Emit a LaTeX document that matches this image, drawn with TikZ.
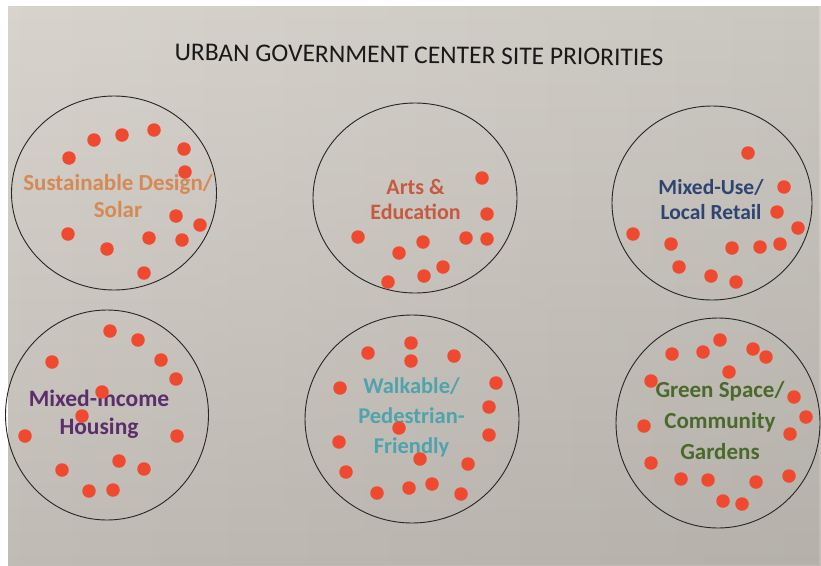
\documentclass[tikz,border=0pt]{standalone}
\usepackage{fontspec}
\setmainfont{Carlito}
\usetikzlibrary{shapes.geometric,fadings}

\definecolor{dotred}{HTML}{EF4A2F}
\definecolor{tanorange}{HTML}{D58A56}
\definecolor{brickred}{HTML}{C65A40}
\definecolor{navyblue}{HTML}{2E4571}
\definecolor{plumpurple}{HTML}{5A2D6B}
\definecolor{tealblue}{HTML}{4FA3AD}
\definecolor{mossgreen}{HTML}{4A6A2C}
\definecolor{papertop}{HTML}{D8D4CD}
\definecolor{paperbottom}{HTML}{C0BBB4}

% darkening that grows towards the right edge
\tikzfading[name=darkright, left color=transparent!100, right color=transparent!0]

\tikzset{
  ring/.style={draw=black!85, line width=0.9pt, ellipse, inner sep=0pt},
  spot/.style={circle, fill=dotred, inner sep=0pt, minimum size=13.5pt},
  label/.style={align=center, font=\bfseries, inner sep=0pt},
}

\begin{document}
\begin{tikzpicture}[x=1pt, y=-1pt]
  \useasboundingbox (0,0) rectangle (821,565);
  % sheet of paper
  \fill[white] (0,0) rectangle (821,565);
  \shade[top color=papertop, bottom color=paperbottom] (8,6) rectangle (821,565);
  \fill[black!60, opacity=0.12, path fading=darkright] (8,6) rectangle (821,565);

  % heading
  \node[font=\fontsize{25.5}{30}\selectfont, text=black!90, rotate=-0.6] (title)
    at (419,55) {URBAN GOVERNMENT CENTER SITE PRIORITIES};

  % the six priority rings
  \node[ring, minimum width=205pt, minimum height=194pt] (c1) at (114,193) {};
  \node[ring, minimum width=204pt, minimum height=190pt] (c2) at (415,198) {};
  \node[ring, minimum width=200pt, minimum height=194pt] (c3) at (712,203) {};
  \node[ring, minimum width=203pt, minimum height=210pt] (c4) at (107,415) {};
  \node[ring, minimum width=214pt, minimum height=208pt] (c5) at (412,419) {};
  \node[ring, minimum width=204pt, minimum height=210pt] (c6) at (718,423) {};

  % priority names
  \node[label, text=tanorange, font=\bfseries\fontsize{23}{27}\selectfont] (t1)
    at (118,196.5) {Sustainable Design/\\Solar};
  \node[label, text=brickred, font=\bfseries\fontsize{22}{25}\selectfont] (t2)
    at (415.5,199.5) {Arts \&\\Education};
  \node[label, text=navyblue, font=\bfseries\fontsize{21.5}{25}\selectfont] (t3)
    at (711,199.5) {Mixed-Use/\\Local Retail};
  \node[label, text=plumpurple, font=\bfseries\fontsize{23.5}{28}\selectfont] (t4)
    at (99,414) {Mixed-Income\\Housing};
  \node[label, text=tealblue, font=\bfseries\fontsize{22.5}{30}\selectfont] (t5)
    at (411.5,417) {Walkable/\\Pedestrian-\\Friendly};
  \node[label, text=mossgreen, font=\bfseries\fontsize{23}{31}\selectfont] (t6)
    at (720,421) {Green Space/\\Community\\Gardens};

  % sticker dots
  \foreach \p [count=\i] in {(94,140),(122,135),(154,130),(184,149),(69,158),
      (185,172),(176,216),(200,225),(68,234),(149,238),(182,240),(107,249),(144,273)}
    \node[spot] (a\i) at \p {};
  \foreach \p [count=\i] in {(482,178),(487,214),(358,237),(423,242),(466,238),
      (487,239),(399,253),(443,267),(424,276),(388,282)}
    \node[spot] (b\i) at \p {};
  \foreach \p [count=\i] in {(748,153),(784,187),(777,212),(798,228),(633,234),
      (671,244),(732,248),(760,247),(780,244),(679,267),(711,276),(736,282)}
    \node[spot] (e\i) at \p {};
  \foreach \p [count=\i] in {(110,331),(138,340),(52,362),(161,360),(176,379),
      (102,392),(82,416),(25,436),(177,436),(119,461),(62,470),(144,469),
      (89,491),(113,490)}
    \node[spot] (f\i) at \p {};
  \foreach \p [count=\i] in {(411,343),(368,353),(411,361),(454,356),(340,388),
      (496,383),(489,407),(399,428),(339,442),(489,435),(420,459),(468,464),
      (346,472),(377,493),(409,488),(432,484),(461,494)}
    \node[spot] (g\i) at \p {};
  \foreach \p [count=\i] in {(720,340),(672,354),(703,352),(753,349),(766,357),
      (729,372),(651,381),(794,397),(806,417),(644,426),(790,434),(651,463),
      (789,476),(681,479),(708,480),(756,482),(723,501),(742,504)}
    \node[spot] (h\i) at \p {};
\end{tikzpicture}
\end{document}
